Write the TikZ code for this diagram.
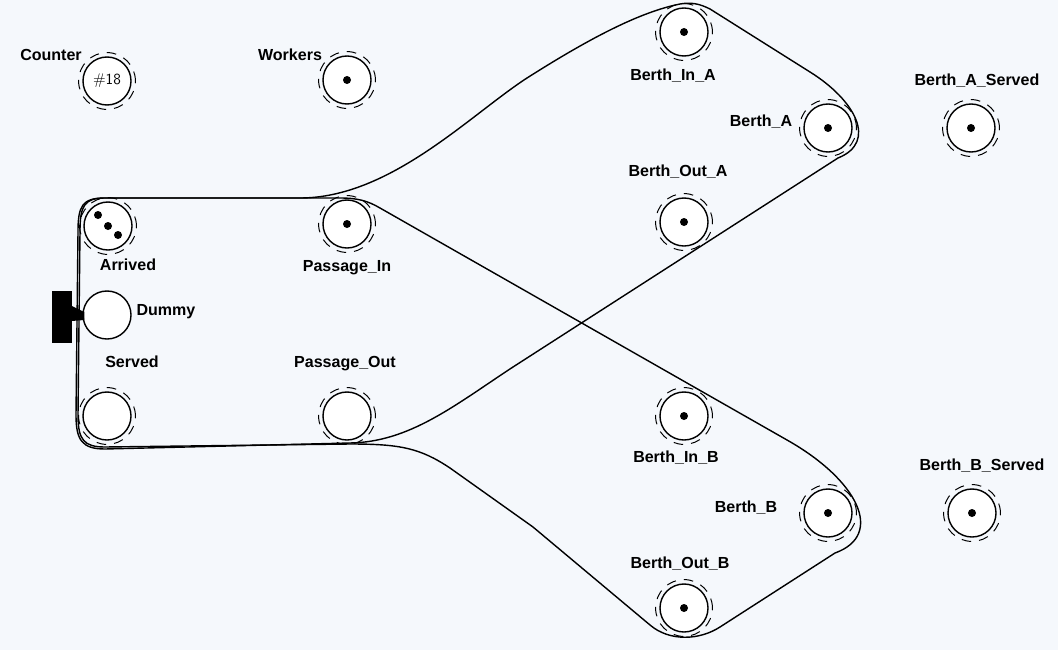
\documentclass[tikz,border=0pt]{standalone}
\usepackage{fontspec}
\setmainfont{Liberation Sans}
\usetikzlibrary{positioning,calc}
\definecolor{bgpaper}{HTML}{F5F8FC}

\begin{document}
\begin{tikzpicture}[x=0.025cm,y=-0.025cm]
            \tikzset{
                place/.style={circle,draw,line width=1pt,fill=white,minimum size=1.2cm,inner sep=0pt},
                ring/.style={draw,line width=0.7pt,dash pattern=on 0.24cm off 0.2cm},
                lbl/.style={font=\fontsize{11.4}{13}\selectfont\bfseries},
                token/.style={circle,fill,inner sep=0pt,minimum size=0.2cm},
                loopline/.style={line width=1pt,line join=round},}
            \fill [bgpaper](0,0) rectangle (1058,650);
            \useasboundingbox (0,0) rectangle (1058,650);
            % places with dashed ring
            \foreach \name/\x/\y in {Counter/107/81,Workers/347/80,Arrived/108/226,Served/107/416,
                PassageIn/347/224,PassageOut/347/416,BerthInA/684/32,BerthA/828/128,BerthOutA/684/222,
                BerthAServed/971/128,BerthInB/684/416,BerthB/828/513,BerthOutB/684/608,BerthBServed/972/513}{
                \draw [ring](\x,\y) circle (0.71cm);
                \node [place] (\name) at (\x,\y) {};
            }
            \node [font=\sffamily\fontsize{11}{13}\selectfont] (countval) at (Counter) {\#18};
            \node [place] (Dummy) at (107,315) {};
            \node [fill,minimum width=0.475cm,minimum height=1.275cm,inner sep=0pt] (TDummy) at (62,317) {};
            \fill ($(TDummy.east)+(0,-11)$) -- ($(Dummy.west)+(2,-3)$) -- ($(Dummy.west)+(2,5)$) -- ($(TDummy.east)+(0,4)$) -- cycle;
            % labels
            \foreach \txt/\x/\y in {Counter/51/55,Workers/290/55,Arrived/128/265,Dummy/166/312,Served/132/362,
                Passage\_In/347/268,Passage\_Out/345/364,Berth\_In\_A/673/76,Berth\_A/761/122,Berth\_Out\_A/678/172,
                Berth\_A\_Served/977/81,Berth\_In\_B/676/458,Berth\_B/746/508,Berth\_Out\_B/680/564,Berth\_B\_Served/982/466}{
                \node [lbl] at (\x,\y) {\txt};
            }
            % tokens
            \foreach \p in {Workers,PassageIn,BerthInA,BerthA,BerthOutA,BerthAServed,BerthInB,BerthB,BerthOutB,BerthBServed}
                \node [token] at (\p) {};
            \node [token] (tokA) at ($(Arrived)+(-10,-11)$) {};
            \node [token] (tokB) at (Arrived) {};
            \node [token] (tokC) at ($(Arrived)+(10,9)$) {};
            % loop over berth A
            \draw [loopline](78,232) .. controls (78,206) and (82,198) .. (105,198) -- (300,198)
                .. controls (390,198) and (470,115) .. (527,78) .. controls (590,38) and (640,12) .. (680,4)
                .. controls (692,2) and (700,4) .. (710,9) -- (810,72) .. controls (855,100) and (878,142) .. (838,158)
                -- (513,367) .. controls (455,405) and (410,442) .. (350,443) -- (105,449)
                .. controls (82,449) and (76,440) .. (76,415) -- cycle;
            % loop over berth B
            \draw [loopline](80,232) .. controls (80,206) and (84,198) .. (105,198) -- (340,198)
                .. controls (358,198) and (368,201) .. (380,208) -- (787,440)
                .. controls (858,480) and (885,535) .. (835,553) -- (720,627)
                .. controls (700,640) and (670,642) .. (650,625) -- (533,527) -- (450,468)
                .. controls (420,448) and (400,444) .. (350,444) -- (105,447)
                .. controls (84,447) and (78,440) .. (78,415) -- cycle;
        \end{tikzpicture}
\end{document}
